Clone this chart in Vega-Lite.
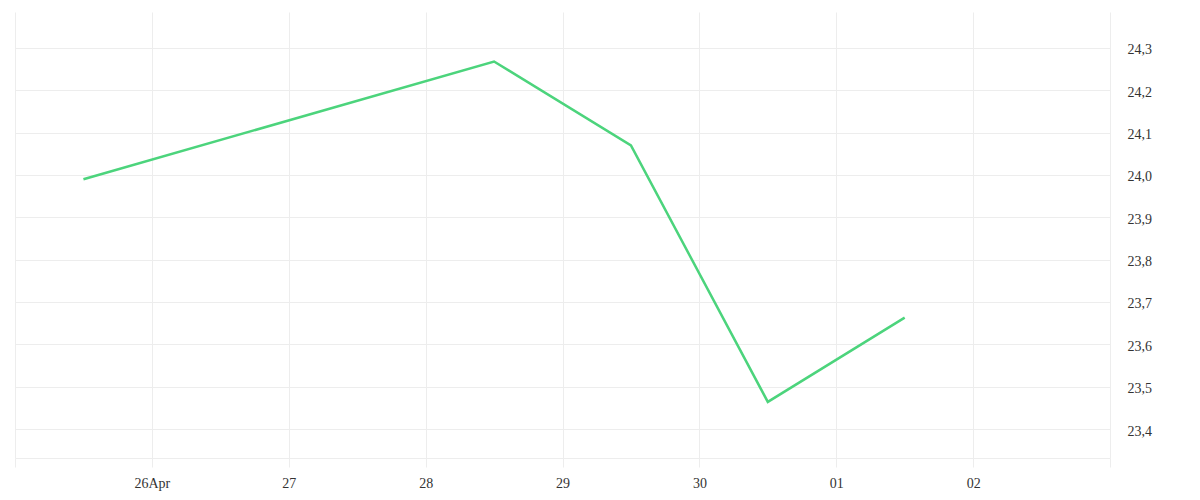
{
  "$schema": "https://vega.github.io/schema/vega-lite/v6.json",
  "width": 1095,
  "height": 446,
  "autosize": "none",
  "padding": {"left": 15, "top": 12, "right": 90, "bottom": 42},
  "background": "white",
  "config": {"view": {"stroke": null}},
  "data": {
    "values": [
      {"date": "2024-04-25T12:00:00", "value": 23.990},
      {"date": "2024-04-28T12:00:00", "value": 24.268},
      {"date": "2024-04-29T12:00:00", "value": 24.070},
      {"date": "2024-04-30T12:00:00", "value": 23.464},
      {"date": "2024-05-01T12:00:00", "value": 23.663}
    ]
  },
  "mark": {"type": "line", "color": "#4cd47c", "strokeWidth": 2.5, "clip": true},
  "encoding": {
    "x": {
      "field": "date",
      "type": "temporal",
      "scale": {"domain": [{"year": 2024, "month": 4, "date": 25}, {"year": 2024, "month": 5, "date": 3}]},
      "axis": {
        "title": null,
        "values": [
          {"year": 2024, "month": 4, "date": 25},
          {"year": 2024, "month": 4, "date": 26},
          {"year": 2024, "month": 4, "date": 27},
          {"year": 2024, "month": 4, "date": 28},
          {"year": 2024, "month": 4, "date": 29},
          {"year": 2024, "month": 4, "date": 30},
          {"year": 2024, "month": 5, "date": 1},
          {"year": 2024, "month": 5, "date": 2},
          {"year": 2024, "month": 5, "date": 3}
        ],
        "labelExpr": "(date(datum.value) == 25 || date(datum.value) == 3) ? '' : (date(datum.value) == 26 ? '26Apr' : timeFormat(datum.value, '%d'))",
        "grid": true,
        "gridColor": "#ededed",
        "gridWidth": 1,
        "domain": true,
        "domainColor": "#ededed",
        "domainWidth": 1,
        "ticks": true,
        "tickColor": "#ededed",
        "tickSize": 9,
        "labelPadding": 9,
        "labelFont": "Liberation Serif",
        "labelFontSize": 14,
        "labelColor": "#333333",
        "labelAngle": 0,
        "labelOverlap": false,
        "labelFlush": false
      }
    },
    "y": {
      "field": "value",
      "type": "quantitative",
      "scale": {"domain": [23.3315, 24.385], "nice": false, "zero": false},
      "axis": {
        "orient": "right",
        "title": null,
        "values": [23.4, 23.5, 23.6, 23.7, 23.8, 23.9, 24.0, 24.1, 24.2, 24.3],
        "labelExpr": "replace(format(datum.value, '.1f'), '.', ',')",
        "grid": true,
        "gridColor": "#ededed",
        "gridWidth": 1,
        "domain": false,
        "ticks": false,
        "labelPadding": 17,
        "labelOffset": 2,
        "labelFont": "Liberation Serif",
        "labelFontSize": 14,
        "labelColor": "#333333",
        "labelAlign": "left"
      }
    }
  }
}
